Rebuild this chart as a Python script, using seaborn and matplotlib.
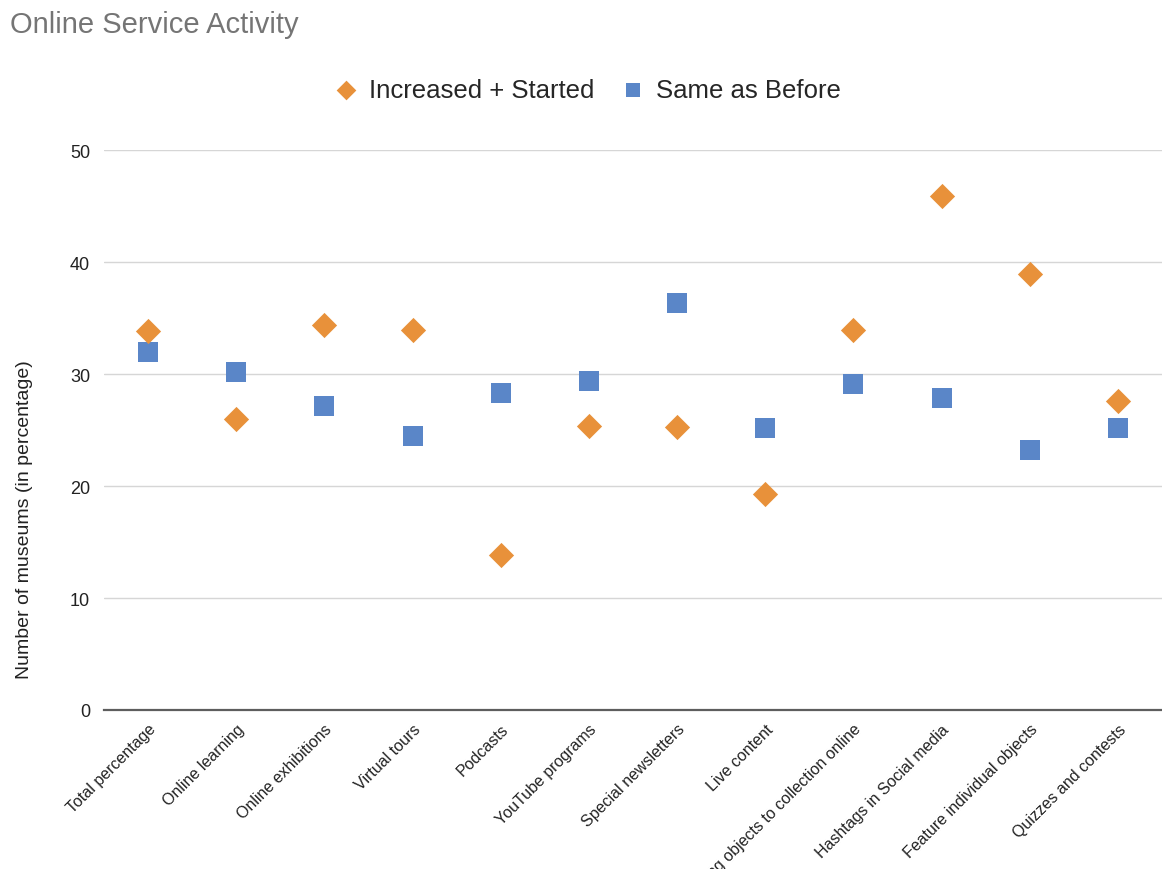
import matplotlib
matplotlib.use("Agg")
import matplotlib.pyplot as plt
import seaborn as sns
import pandas as pd

categories = [
    "Total percentage", "Online learning", "Online exhibitions", "Virtual tours",
    "Podcasts", "YouTube programs", "Special newsletters", "Live content",
    "Adding objects to collection online", "Hashtags in Social media",
    "Feature individual objects", "Quizzes and contests",
]
increased_started = [33.8, 26.0, 34.4, 33.9, 13.8, 25.4, 25.3, 19.3, 33.9, 45.9, 38.9, 27.6]
same_as_before = [32.0, 30.2, 27.1, 24.5, 28.3, 29.4, 36.3, 25.2, 29.1, 27.9, 23.2, 25.2]
series_names = ["Increased + Started", "Same as Before"]
y_ticks = [0, 10, 20, 30, 40, 50]

ORANGE = "#E8913A"
BLUE = "#5A86C8"
TEXT = "#222222"

sns.set_theme(style="white")
plt.rcParams["font.family"] = ["Liberation Sans", "DejaVu Sans"]

df = pd.DataFrame({
    "category": categories * 2,
    "value": increased_started + same_as_before,
    "series": [series_names[0]] * len(categories) + [series_names[1]] * len(categories),
})

fig = plt.figure(figsize=(11.62, 8.70), dpi=100)
ax = fig.add_axes([104 / 1162, 159 / 870, 1058 / 1162, 560 / 870])

sns.scatterplot(data=df[df.series == series_names[1]], x="category", y="value",
                marker="s", s=190, color=BLUE, linewidth=0, ax=ax,
                label=series_names[1], zorder=3)
sns.scatterplot(data=df[df.series == series_names[0]], x="category", y="value",
                marker="D", s=165, color=ORANGE, linewidth=0, ax=ax,
                label=series_names[0], zorder=3)

ax.set_xlim(-0.5, len(categories) - 0.5)
ax.set_ylim(0, 50)
ax.set_yticks(y_ticks)
ax.set_yticklabels([str(t) for t in y_ticks], fontsize=13, color=TEXT)
ax.yaxis.grid(True, color="#D6D6D6", linewidth=1.0)
ax.set_axisbelow(True)
for side in ["top", "right", "left"]:
    ax.spines[side].set_visible(False)
ax.spines["bottom"].set_color("#5E5E5E")
ax.spines["bottom"].set_linewidth(1.6)
ax.tick_params(axis="y", length=0, pad=10)
ax.tick_params(axis="x", length=0, pad=8)
ax.set_xticks(range(len(categories)))
ax.set_xticklabels(categories, rotation=45, ha="right", rotation_mode="anchor",
                   fontsize=11.5, color=TEXT)
ax.set_xlabel("")
ax.set_ylabel("Number of museums (in percentage)", fontsize=14, color=TEXT)
ax.yaxis.set_label_coords(-0.067, 0.341)

handles, labels = ax.get_legend_handles_labels()
order = [labels.index(n) for n in series_names]
ax.legend([handles[i] for i in order], [labels[i] for i in order],
          loc="center", bbox_to_anchor=(587 / 1162, 1 - 91 / 870),
          bbox_transform=fig.transFigure, ncol=2, frameon=False,
          fontsize=18.5, handletextpad=0.4, columnspacing=1.0, markerscale=0.78,
          handlelength=1.0)

fig.text(10 / 1162, 1 - 25 / 870, "Online Service Activity", fontsize=21,
         color="#757575", ha="left", va="center")

fig.savefig("out.png", dpi=100)
